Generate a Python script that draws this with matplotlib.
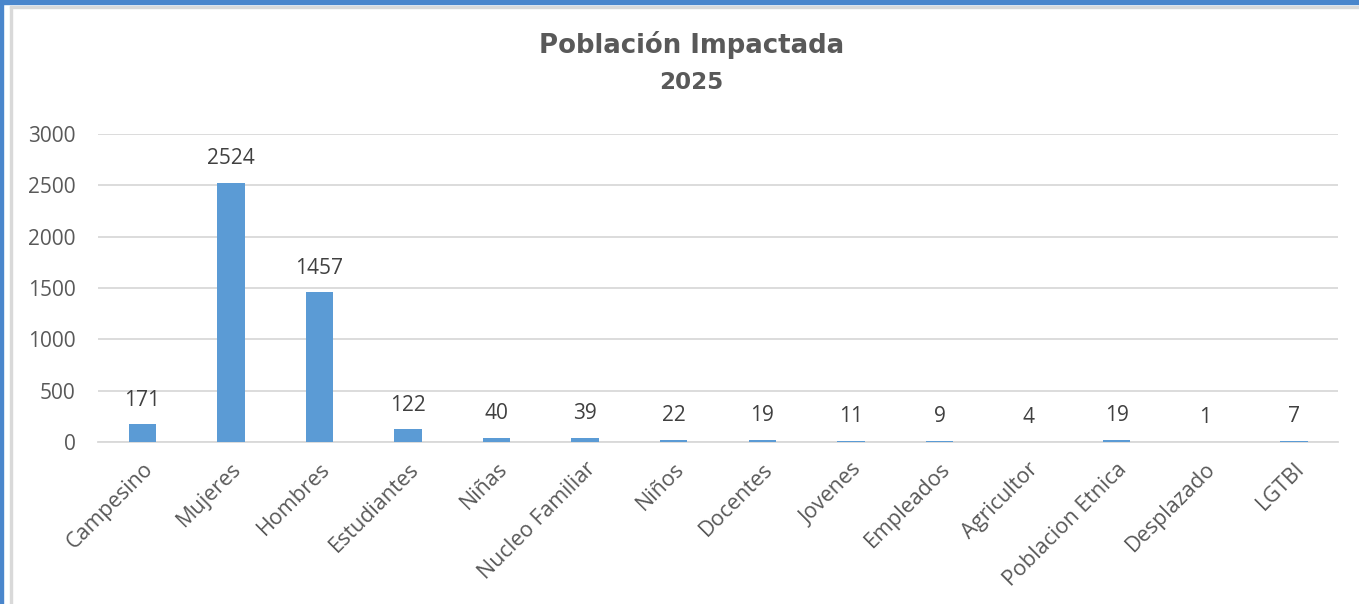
import numpy as np
import matplotlib.pyplot as plt
from matplotlib.patches import Rectangle

categorias = ["Campesino", "Mujeres", "Hombres", "Estudiantes", "Niñas", "Nucleo Familiar",
              "Niños", "Docentes", "Jovenes", "Empleados", "Agricultor", "Poblacion Etnica",
              "Desplazado", "LGTBI"]
valores = [171, 2524, 1457, 122, 40, 39, 22, 19, 11, 9, 4, 19, 1, 7]
yticks = [0, 500, 1000, 1500, 2000, 2500, 3000]

plt.rcParams['font.family'] = ['Open Sans', 'DejaVu Sans']

fig = plt.figure(figsize=(13.59, 6.04), dpi=100)
# marco azul de la ventana
fig.patches.append(Rectangle((0, 0.993), 1, 0.007, transform=fig.transFigure,
                             color='#4a86cc', zorder=0))
fig.patches.append(Rectangle((0, 0), 0.0025, 1, transform=fig.transFigure,
                             color='#4a86cc', zorder=0))
fig.patches.append(Rectangle((0.0070, 0), 0.0015, 0.990, transform=fig.transFigure,
                             color='#d9d9d9', zorder=0))
fig.patches.append(Rectangle((0.0070, 0.987), 0.993, 0.003, transform=fig.transFigure,
                             color='#d9d9d9', zorder=0))

ax = fig.add_axes([0.0721, 0.2682, 0.9125, 0.5099])
x = np.arange(len(categorias))
ax.bar(x, valores, width=0.31, color='#5b9bd5', zorder=3)

for xi, v in zip(x, valores):
    ax.annotate(str(v), (xi, v), xytext=(0, 10), textcoords='offset points',
                ha='center', va='bottom', fontsize=15, color='#404040')

ax.set_ylim(0, 3000)
ax.set_xlim(-0.5, len(categorias) - 0.5)
ax.set_yticks(yticks)
ax.set_yticklabels([str(t) for t in yticks], fontsize=15, color='#595959')
ax.yaxis.grid(True, color='#d9d9d9', linewidth=1.3, zorder=0)
ax.set_xticks(x)
ax.set_xticklabels(categorias, rotation=45, ha='right', rotation_mode='anchor',
                   fontsize=15.5, color='#595959')
ax.tick_params(axis='both', length=0)
ax.tick_params(axis='y', pad=16)
ax.tick_params(axis='x', pad=12)
for s in ['top', 'right', 'left']:
    ax.spines[s].set_visible(False)
ax.spines['bottom'].set_color('#d9d9d9')
ax.spines['bottom'].set_linewidth(1.3)

fig.text(0.509, 0.925, "Población Impactada", ha='center', va='center',
         fontsize=18.7, fontweight='bold', color='#595959', family='DejaVu Sans')
fig.text(0.509, 0.864, "2025", ha='center', va='center',
         fontsize=16.6, fontweight='bold', color='#595959', family='DejaVu Sans')

fig.savefig('out.png', dpi=100)
